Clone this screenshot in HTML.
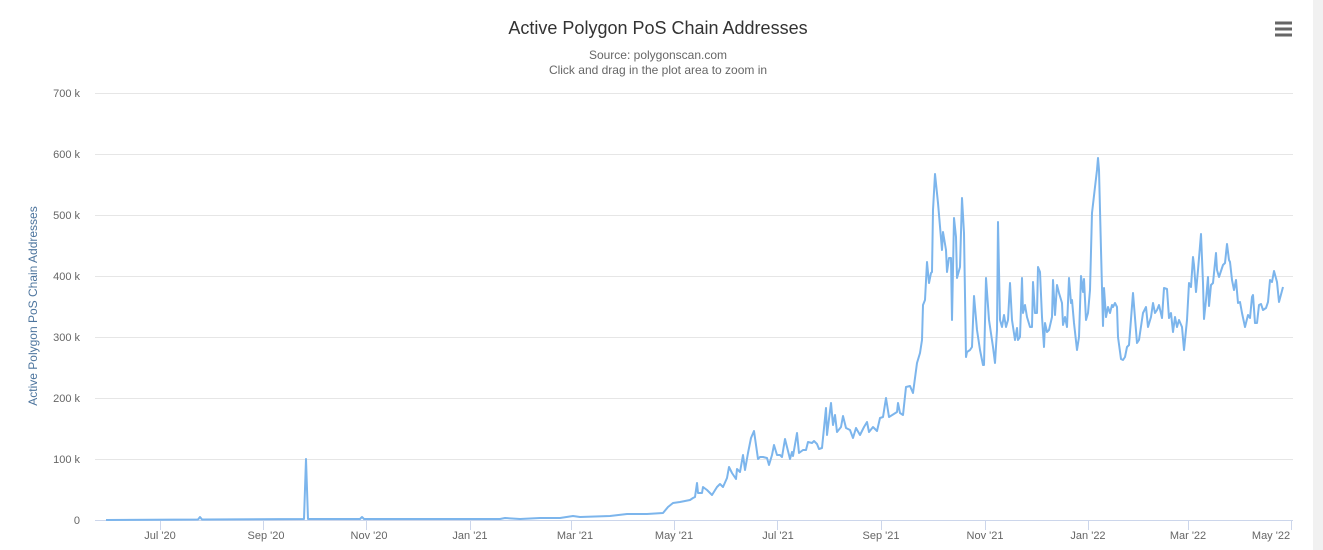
<!DOCTYPE html>
<html><head><meta charset="utf-8"><style>
html,body{margin:0;padding:0;background:#fff;width:1323px;height:550px;overflow:hidden}
svg{display:block;font-family:"Liberation Sans","DejaVu Sans",sans-serif}
</style></head><body>
<svg width="1323" height="550" viewBox="0 0 1323 550">
<rect x="1313" y="0" width="10" height="550" fill="#f1f1f1"/>
<text x="658" y="34" text-anchor="middle" font-size="18" fill="#333">Active Polygon PoS Chain Addresses</text>
<text x="658" y="59" text-anchor="middle" font-size="12" fill="#666">Source: polygonscan.com</text>
<text x="658" y="74" text-anchor="middle" font-size="12" fill="#666">Click and drag in the plot area to zoom in</text>
<g stroke="#666" stroke-width="3"><line x1="1275" y1="23" x2="1292" y2="23"/><line x1="1275" y1="29" x2="1292" y2="29"/><line x1="1275" y1="35" x2="1292" y2="35"/></g>
<g stroke="#e6e6e6" stroke-width="1">
<line x1="95" y1="93.5" x2="1293" y2="93.5"/><line x1="95" y1="154.5" x2="1293" y2="154.5"/><line x1="95" y1="215.5" x2="1293" y2="215.5"/><line x1="95" y1="276.5" x2="1293" y2="276.5"/><line x1="95" y1="337.5" x2="1293" y2="337.5"/><line x1="95" y1="398.5" x2="1293" y2="398.5"/><line x1="95" y1="459.5" x2="1293" y2="459.5"/>
</g>
<line x1="95" y1="520.5" x2="1293" y2="520.5" stroke="#ccd6eb"/>
<g stroke="#ccd6eb"><line x1="160.5" y1="520" x2="160.5" y2="530"/><line x1="263.5" y1="520" x2="263.5" y2="530"/><line x1="366.5" y1="520" x2="366.5" y2="530"/><line x1="470.5" y1="520" x2="470.5" y2="530"/><line x1="571.5" y1="520" x2="571.5" y2="530"/><line x1="674.5" y1="520" x2="674.5" y2="530"/><line x1="777.5" y1="520" x2="777.5" y2="530"/><line x1="881.5" y1="520" x2="881.5" y2="530"/><line x1="985.5" y1="520" x2="985.5" y2="530"/><line x1="1088.5" y1="520" x2="1088.5" y2="530"/><line x1="1188.5" y1="520" x2="1188.5" y2="530"/><line x1="1291.5" y1="520" x2="1291.5" y2="530"/></g>
<g font-size="11" fill="#666" text-anchor="end">
<text x="80" y="97">700 k</text><text x="80" y="158">600 k</text><text x="80" y="219">500 k</text><text x="80" y="280">400 k</text><text x="80" y="341">300 k</text><text x="80" y="402">200 k</text><text x="80" y="463">100 k</text><text x="80" y="524">0</text>
</g>
<g font-size="11" fill="#666" text-anchor="middle">
<text x="160" y="539">Jul '20</text><text x="266" y="539">Sep '20</text><text x="369" y="539">Nov '20</text><text x="470" y="539">Jan '21</text><text x="575" y="539">Mar '21</text><text x="674" y="539">May '21</text><text x="778" y="539">Jul '21</text><text x="881" y="539">Sep '21</text><text x="985" y="539">Nov '21</text><text x="1088" y="539">Jan '22</text><text x="1188" y="539">Mar '22</text><text x="1271" y="539">May '22</text>
</g>
<text transform="translate(37,306) rotate(-90)" text-anchor="middle" font-size="12" fill="#4d759e">Active Polygon PoS Chain Addresses</text>
<polyline fill="none" stroke="#7cb5ec" stroke-width="2" stroke-linejoin="round" points="106,520 198,519.5 200,517 202,519.5 304,519 306,459 308,519 360,519 362,517 364,519 500,519 505,518 520,519 540,518 560,518 573,516 580,517 610,516 627,514 647,514 663,513 668,507 673,503 680,502 685,501 690,500 693,498 695,497 697,483 698,493 702,493 703,487 707,490 712,495 717,487 720,484 723,487 727,478 729,467 732,473 736,479 737,469 740,472 743,455 745,470 748,453 751,438 754,431 758,459 760,457 763,457 767,458 769,465 772,455 774,445 777,455 780,455 782,457 785,439 790,459 792,452 793,456 797,433 799,453 803,450 806,450 808,442 812,443 814,441 817,444 819,449 822,448 826,408 827,435 831,403 833,425 835,415 837,432 841,427 843,416 846,428 850,430 853,438 856,428 860,435 864,427 867,422 869,432 873,427 877,431 880,418 883,417 886,398 889,417 897,412 898,403 900,413 903,415 906,387 910,386 913,393 917,363 920,353 922,340 923,305 925,300 927,262 929,283 931,273 932,272 933,210 935,174 938,203 942,250 943,232 946,250 947,272 949,258 951,258 952,320 954,218 956,237 957,278 960,267 962,198 964,233 966,357 967,352 970,350 972,347 974,296 977,330 980,350 983,365 984,365 986,278 989,320 993,347 995,363 997,330 998,222 1000,320 1002,327 1004,315 1006,327 1008,320 1010,283 1012,320 1015,340 1017,328 1018,340 1020,337 1022,278 1023,313 1025,305 1027,317 1030,327 1032,327 1033,282 1035,313 1037,313 1038,267 1040,272 1042,317 1044,347 1045,323 1047,332 1049,330 1052,317 1053,280 1055,315 1057,285 1059,293 1062,303 1063,325 1065,317 1067,327 1069,278 1071,303 1072,300 1074,323 1077,350 1079,337 1081,276 1083,292 1084,279 1086,320 1088,313 1090,290 1092,213 1095,187 1097,170 1098,158 1099,170 1101,250 1103,326 1104,288 1106,317 1108,307 1110,313 1112,305 1113,307 1115,303 1117,307 1118,337 1121,359 1123,360 1125,357 1127,347 1129,345 1133,293 1137,343 1139,340 1143,313 1146,307 1148,327 1151,317 1153,303 1155,313 1157,310 1159,305 1162,318 1164,288 1167,289 1169,318 1171,313 1173,332 1175,317 1177,327 1179,320 1182,327 1184,350 1187,320 1189,283 1191,287 1193,257 1194,265 1196,292 1198,270 1201,234 1203,283 1204,319 1206,300 1208,277 1209,306 1211,285 1213,283 1216,253 1217,270 1219,277 1223,265 1225,263 1227,244 1229,260 1230,262 1232,280 1234,290 1236,280 1238,303 1240,302 1242,313 1245,327 1248,315 1250,318 1252,297 1253,295 1255,323 1257,323 1259,305 1261,304 1263,310 1266,308 1268,302 1270,280 1272,282 1274,271 1277,282 1279,302 1283,287"/>
</svg>
</body></html>
